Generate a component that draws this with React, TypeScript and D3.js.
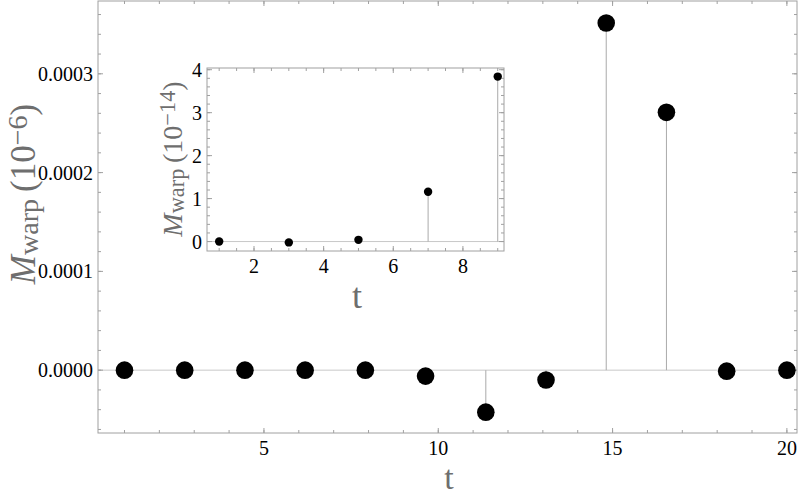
import React from "react";
import * as d3 from "d3";

// main series: t sampled in 12 steps from 1 to 20
const mainT = [1, 2.727, 4.455, 6.182, 7.909, 9.636, 11.364, 13.091, 14.818, 16.545, 18.273, 20];
const mainM = [0, 0, 0, 0, 0, -0.000006, -0.0000425, -0.00001, 0.0003515, 0.000261, -0.000001, 0];
const mainXTicks = [5, 10, 15, 20];
const mainYTicks = [0, 0.0001, 0.0002, 0.0003];

// inset series
const insetT = [1, 3, 5, 7, 9];
const insetM = [0, -0.02, 0.04, 1.16, 3.84];
const insetXTicks = [2, 4, 6, 8];
const insetYTicks = [0, 1, 2, 3, 4];

const W = 800;
const H = 497;
const FONT = "Liberation Serif";
const GRAY = "#aaaaaa";
const FRAME = "#a0a0a0";
const LABEL = "#6e6e6e";

type PanelOpts = {
  left: number; right: number; top: number; bottom: number;
  xDom: [number, number]; yDom: [number, number];
  xTicks: number[]; yTicks: number[];
  xMinor: number[]; yMinor: number[];
  yFmt: (v: number) => string;
  r: number; tickFont: number;
};

function drawPanel(g: d3.Selection<SVGGElement, unknown, null, undefined>, t: number[], m: number[], o: PanelOpts) {
  const x = d3.scaleLinear().domain(o.xDom).range([o.left, o.right]);
  const y = d3.scaleLinear().domain(o.yDom).range([o.bottom, o.top]);

  g.append("rect")
    .attr("x", o.left).attr("y", o.top)
    .attr("width", o.right - o.left).attr("height", o.bottom - o.top)
    .attr("fill", "white");

  // zero axis
  g.append("line")
    .attr("x1", o.left).attr("x2", o.right)
    .attr("y1", y(0)).attr("y2", y(0))
    .attr("stroke", "#c8c8c8").attr("stroke-width", 1);

  // stems
  g.selectAll("line.stem").data(t).join("line")
    .attr("class", "stem")
    .attr("x1", (d) => x(d)).attr("x2", (d) => x(d))
    .attr("y1", y(0)).attr("y2", (d, i) => y(m[i]))
    .attr("stroke", GRAY).attr("stroke-width", 1);

  // frame ticks (inward, all four sides)
  const tk = g.append("g").attr("stroke", FRAME).attr("stroke-width", 1);
  const addX = (vals: number[], len: number) => {
    vals.forEach((v) => {
      const px = x(v);
      if (px < o.left || px > o.right) return;
      tk.append("line").attr("x1", px).attr("x2", px).attr("y1", o.bottom).attr("y2", o.bottom - len);
      tk.append("line").attr("x1", px).attr("x2", px).attr("y1", o.top).attr("y2", o.top + len);
    });
  };
  const addY = (vals: number[], len: number) => {
    vals.forEach((v) => {
      const py = y(v);
      if (py < o.top || py > o.bottom) return;
      tk.append("line").attr("y1", py).attr("y2", py).attr("x1", o.left).attr("x2", o.left + len);
      tk.append("line").attr("y1", py).attr("y2", py).attr("x1", o.right).attr("x2", o.right - len);
    });
  };
  addX(o.xTicks, 5);
  addX(o.xMinor, 3);
  addY(o.yTicks, 5);
  addY(o.yMinor, 3);

  g.append("rect")
    .attr("x", o.left).attr("y", o.top)
    .attr("width", o.right - o.left).attr("height", o.bottom - o.top)
    .attr("fill", "none").attr("stroke", FRAME).attr("stroke-width", 1);

  // tick labels
  g.selectAll("text.xt").data(o.xTicks).join("text")
    .attr("class", "xt")
    .attr("x", (d) => Math.min(x(d), o.right - 9))
    .attr("y", o.bottom + 22)
    .attr("text-anchor", "middle")
    .attr("font-family", FONT).attr("font-size", o.tickFont)
    .text((d) => String(d));
  g.selectAll("text.yt").data(o.yTicks).join("text")
    .attr("class", "yt")
    .attr("x", o.left - 5)
    .attr("y", (d) => y(d))
    .attr("dy", "0.35em")
    .attr("text-anchor", "end")
    .attr("font-family", FONT).attr("font-size", o.tickFont)
    .text((d) => o.yFmt(d));

  // points
  g.selectAll("circle.pt").data(t).join("circle")
    .attr("class", "pt")
    .attr("cx", (d) => x(d)).attr("cy", (d, i) => y(m[i]))
    .attr("r", o.r).attr("fill", "black");
}

function yLabel(svg: d3.Selection<SVGSVGElement, unknown, null, undefined>, cx: number, cy: number, size: number, exp: string) {
  const tx = svg.append("text")
    .attr("transform", `translate(${cx},${cy}) rotate(-90)`)
    .attr("text-anchor", "middle")
    .attr("font-family", FONT).attr("font-size", size)
    .attr("fill", LABEL);
  tx.append("tspan").attr("font-style", "italic").text("M");
  tx.append("tspan").attr("font-size", size * 0.8).attr("dy", size * 0.08).text("warp");
  tx.append("tspan").attr("dy", -size * 0.08).text("\u2009(10");
  tx.append("tspan").attr("font-size", size * 0.8).attr("dy", -size * 0.24).text(exp);
  tx.append("tspan").attr("dy", size * 0.24).text(")");
}

export default function App() {
  const ref = React.useRef<SVGSVGElement>(null);

  React.useEffect(() => {
    if (!ref.current) return;
    const svg = d3.select(ref.current);
    svg.selectAll("*").remove();

    const main = svg.append("g");
    drawPanel(main, mainT, mainM, {
      left: 98, right: 797, top: 1, bottom: 433,
      xDom: [0.24, 20.29], yDom: [-0.0000636, 0.0003737],
      xTicks: mainXTicks, yTicks: mainYTicks,
      xMinor: d3.range(1, 21), yMinor: d3.range(-0.00006, 0.00037, 0.00002),
      yFmt: d3.format(".4f"), r: 8.8, tickFont: 20,
    });
    main.append("text")
      .attr("x", 449).attr("y", 489)
      .attr("text-anchor", "middle")
      .attr("font-family", FONT).attr("font-size", 34)
      .attr("fill", LABEL).text("t");
    yLabel(svg, 35, 194, 35, "\u22126");

    const inset = svg.append("g");
    drawPanel(inset, insetT, insetM, {
      left: 207, right: 504, top: 68, bottom: 251,
      xDom: [0.65, 9.18], yDom: [-0.22, 4.04],
      xTicks: insetXTicks, yTicks: insetYTicks,
      xMinor: d3.range(1, 10, 0.5), yMinor: d3.range(0, 4.01, 0.2),
      yFmt: (v) => String(v), r: 4.2, tickFont: 20,
    });
    inset.append("text")
      .attr("x", 357).attr("y", 308)
      .attr("text-anchor", "middle")
      .attr("font-family", FONT).attr("font-size", 36)
      .attr("fill", LABEL).text("t");
    yLabel(svg, 182, 159, 28, "\u221214");
  }, []);

  return (
    <svg ref={ref} width={W} height={H}
      style={{ position: "absolute", left: 0, top: 0, background: "white" }} />
  );
}
